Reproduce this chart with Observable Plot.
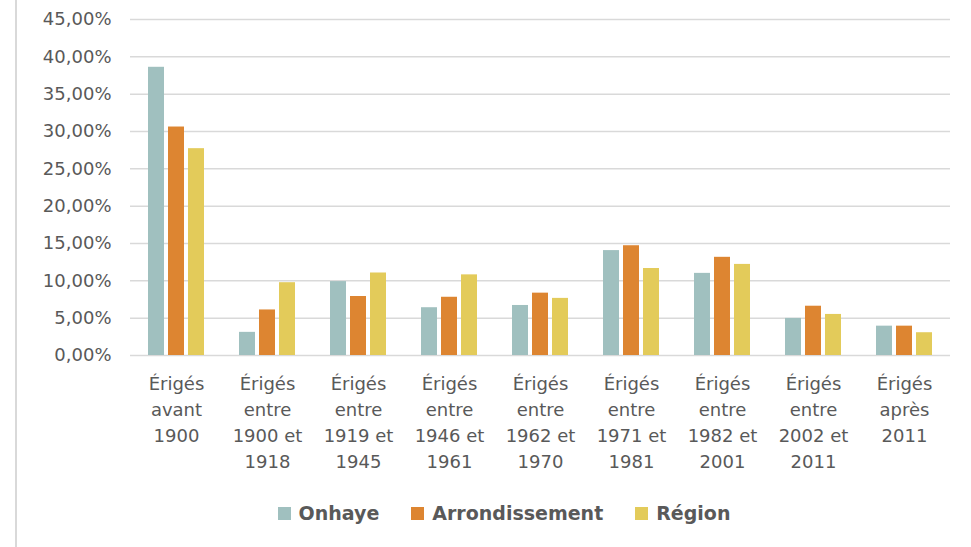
<!DOCTYPE html>
<html>
<head>
<meta charset="utf-8">
<script src="https://cdn.jsdelivr.net/npm/d3@7"></script>
<script src="https://cdn.jsdelivr.net/npm/@observablehq/plot@0.6"></script>
<style>
  html, body { margin: 0; padding: 0; background: #fff; }
  body { width: 971px; height: 547px; position: relative; overflow: hidden; font-family: "DejaVu Sans", sans-serif; }
  #frame { position: absolute; left: 15px; top: 0; width: 2px; height: 547px; background: #d9d9d9; }
  #chart { position: absolute; left: 0; top: 0; width: 971px; height: 480px; }
  #chart svg { position: absolute; left: 0; top: 0; }
  #legend { position: absolute; left: 0; top: 502px; width: 971px; display: flex; justify-content: center; padding-left: 37px; box-sizing: border-box; font-weight: bold; font-size: 19px; color: #595959; }
  .item { display: flex; align-items: center; margin: 0 16px; }
  .sw { width: 13px; height: 13px; margin-right: 8px; }
</style>
</head>
<body>
<div id="frame"></div>
<div id="chart"></div>
<div id="legend"></div>
<script>
const categories = ["Érigés avant 1900", "Érigés entre 1900 et 1918", "Érigés entre 1919 et 1945", "Érigés entre 1946 et 1961", "Érigés entre 1962 et 1970", "Érigés entre 1971 et 1981", "Érigés entre 1982 et 2001", "Érigés entre 2002 et 2011", "Érigés après 2011"];
const categoryLabels = ["Érigés\navant\n1900", "Érigés\nentre\n1900 et\n1918", "Érigés\nentre\n1919 et\n1945", "Érigés\nentre\n1946 et\n1961", "Érigés\nentre\n1962 et\n1970", "Érigés\nentre\n1971 et\n1981", "Érigés\nentre\n1982 et\n2001", "Érigés\nentre\n2002 et\n2011", "Érigés\naprès\n2011"];
const series = ["Onhaye", "Arrondissement", "Région"];
const colors = ["#a0c0bf", "#dd8531", "#e3cb5a"];
const onhaye = [38.6, 3.1, 9.9, 6.4, 6.7, 14.05, 11.0, 4.97, 3.93];
const arrondissement = [30.6, 6.1, 7.9, 7.8, 8.35, 14.7, 13.15, 6.6, 3.93];
const region = [27.7, 9.75, 11.05, 10.8, 7.65, 11.65, 12.2, 5.5, 3.05];
const yTicks = [0, 5, 10, 15, 20, 25, 30, 35, 40, 45];

const valuesBySeries = [onhaye, arrondissement, region];
const data = [];
categories.forEach((c, i) => {
  series.forEach((s, j) => data.push({category: c, series: s, value: valuesBySeries[j][i]}));
});
const labelOf = new Map(categories.map((c, i) => [c, categoryLabels[i]]));

const common = {
  width: 971,
  height: 480,
  marginLeft: 130,
  marginRight: 21,
  marginTop: 19,
  marginBottom: 125,
  style: {fontFamily: "DejaVu Sans, sans-serif", fontSize: "18px", color: "#595959", background: "transparent"},
  y: {domain: [0, 45], label: null}
};

// Layer 1: y axis and full-width grid
const axes = Plot.plot({
  ...common,
  x: {domain: [0, 1], axis: null},
  marks: [
    Plot.gridY(yTicks, {stroke: "#d9d9d9", strokeOpacity: 1, strokeWidth: 1.5}),
    Plot.axisY(yTicks, {tickSize: 0, tickPadding: 19, tickFormat: d => d.toFixed(2).replace(".", ",") + "%", fill: "#595959", label: null})
  ]
});

// Layer 2: grouped bars with category axis
const bars = Plot.plot({
  ...common,
  fx: {domain: categories, paddingInner: 0.385, paddingOuter: 0.19, label: null},
  x: {domain: series, paddingInner: 0.2, paddingOuter: 0, axis: null},
  y: {domain: [0, 45], label: null, axis: null},
  color: {domain: series, range: colors},
  marks: [
    Plot.axisFx({anchor: "bottom", tickSize: 0, tickPadding: 16, tickFormat: d => labelOf.get(d), lineHeight: 1.45, fill: "#595959", label: null}),
    Plot.barY(data, {fx: "category", x: "series", y: "value", fill: "series"})
  ]
});
document.getElementById("chart").appendChild(axes);
document.getElementById("chart").appendChild(bars);

const legend = document.getElementById("legend");
series.forEach((s, i) => {
  const item = document.createElement("div");
  item.className = "item";
  const sw = document.createElement("div");
  sw.className = "sw";
  sw.style.background = colors[i];
  const t = document.createElement("span");
  t.textContent = s;
  item.appendChild(sw);
  item.appendChild(t);
  legend.appendChild(item);
});
</script>
</body>
</html>
